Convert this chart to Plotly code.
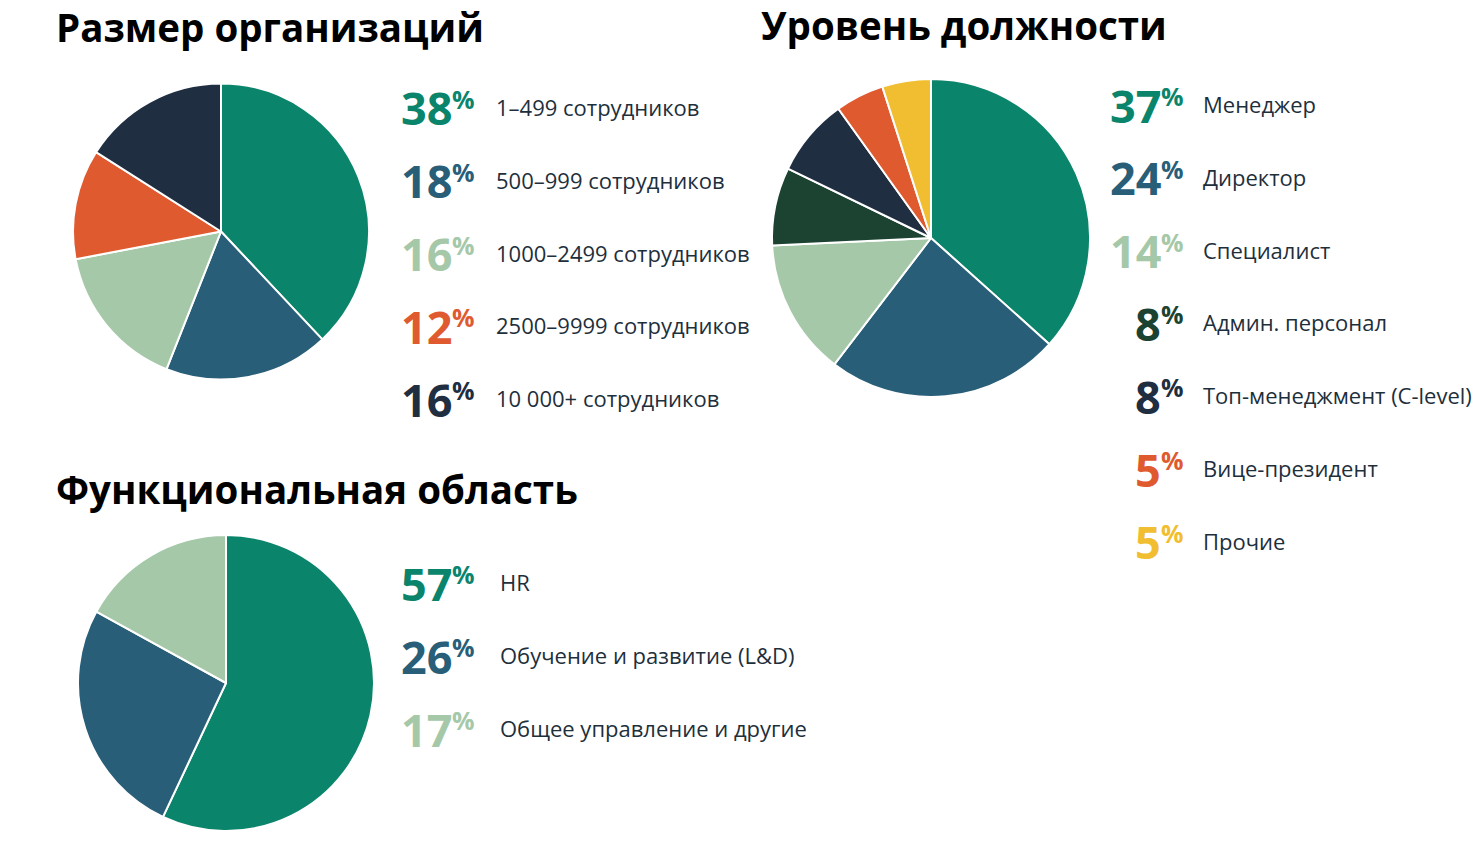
import plotly.graph_objects as go

W, H = 1480, 847

# ---- Data ----
size_labels = ["1–499 сотрудников", "500–999 сотрудников", "1000–2499 сотрудников",
               "2500–9999 сотрудников", "10 000+ сотрудников"]
size_values = [38, 18, 16, 12, 16]
size_colors = ["#0A846A", "#285E78", "#A5C8A9", "#E05A30", "#1F2E40"]

level_labels = ["Менеджер", "Директор", "Специалист", "Админ. персонал",
                "Топ-менеджмент (C-level)", "Вице-президент", "Прочие"]
level_values = [37, 24, 14, 8, 8, 5, 5]
level_colors = ["#0A846A", "#285E78", "#A5C8A9", "#1C4332", "#1F2E40", "#E05A30", "#F0BE30"]

func_labels = ["HR", "Обучение и развитие (L&D)", "Общее управление и другие"]
func_values = [57, 26, 17]
func_colors = ["#0A846A", "#285E78", "#A5C8A9"]

titles = ["Размер организаций", "Уровень должности", "Функциональная область"]

FONT = "Open Sans"
TEXT_COLOR = "#1E2F3C"


def px(x):
    return x / W


def py(y):
    return 1 - y / H


def dom(cx, cy, r):
    return dict(x=[px(cx - r), px(cx + r)], y=[py(cy + r), py(cy - r)])


fig = go.Figure()

pies = [
    (size_labels, size_values, size_colors, (221, 231.5, 148)),
    (level_labels, level_values, level_colors, (931, 238, 159)),
    (func_labels, func_values, func_colors, (226, 683, 148)),
]
for labels, values, colors, (cx, cy, r) in pies:
    fig.add_trace(go.Pie(
        labels=labels, values=values, sort=False, direction="clockwise",
        rotation=0, textinfo="none", hoverinfo="label+percent",
        marker=dict(colors=colors, line=dict(color="white", width=2)),
        domain=dom(cx, cy, r), showlegend=False,
    ))

annotations = []

# Titles
for text, x, y in [(titles[0], 55, 27), (titles[1], 760, 25.5), (titles[2], 55, 489)]:
    annotations.append(dict(
        text=f"<b>{text}</b>", x=px(x), y=py(y), xref="paper", yref="paper",
        xanchor="left", yanchor="middle", showarrow=False, borderpad=0,
        font=dict(family=FONT, size=38.5, color="#000000")))

# Legend blocks
blocks = [
    (size_labels, size_values, size_colors, 452, 496, 106, 72.8),
    (level_labels, level_values, level_colors, 1161, 1203, 103, 72.8),
    (func_labels, func_values, func_colors, 452, 500, 581, 73),
]
for labels, values, colors, pct_x, label_x, y0, step in blocks:
    for i, (lab, val, col) in enumerate(zip(labels, values, colors)):
        y = y0 + i * step
        annotations.append(dict(
            text=f"<b>{val}</b>", x=px(pct_x + 2), y=py(y + 2), xref="paper", yref="paper",
            xanchor="right", yanchor="middle", showarrow=False,
            font=dict(family=FONT, size=45, color=col)))
        annotations.append(dict(
            text="<b>%</b>", x=px(pct_x - 2), y=py(y - 7), xref="paper", yref="paper",
            xanchor="left", yanchor="middle", showarrow=False,
            font=dict(family=FONT, size=25, color=col)))
        annotations.append(dict(
            text=lab, x=px(label_x - 2), y=py(y + 1), xref="paper", yref="paper",
            xanchor="left", yanchor="middle", showarrow=False,
            font=dict(family=FONT, size=22, color=TEXT_COLOR)))

fig.update_layout(
    width=W, height=H, margin=dict(l=0, r=0, t=0, b=0),
    paper_bgcolor="white", plot_bgcolor="white",
    annotations=annotations, showlegend=False,
)

fig.write_html("out.html", config={"displayModeBar": False},
               post_script="document.body.style.margin='0';document.body.style.padding='0';")
